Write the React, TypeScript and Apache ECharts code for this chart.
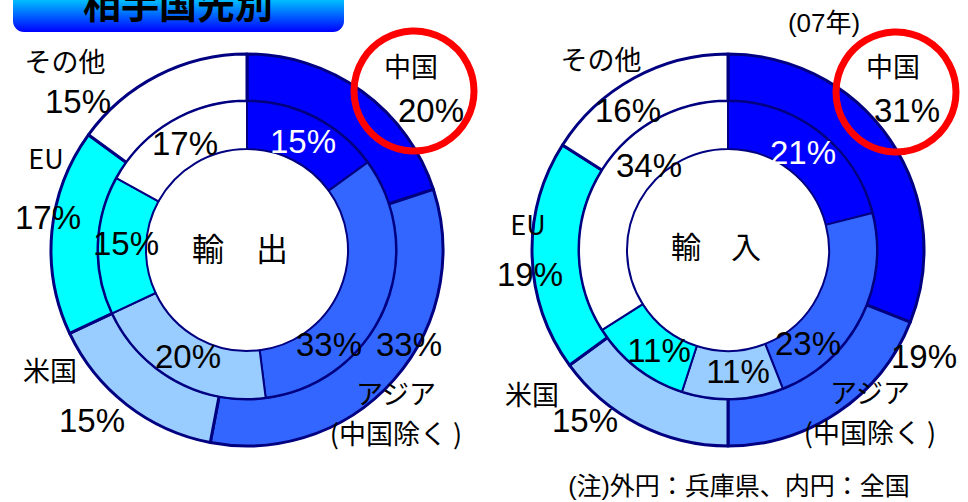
import React, { useEffect, useRef } from "react";
import * as echarts from "echarts";

// Categories (clockwise from 12 o'clock)
const categories = ["中国", "アジア(中国除く)", "米国", "EU", "その他"];
// 輸出 (exports): outer = 兵庫県, inner = 全国
const exportHyogo = [20, 33, 15, 17, 15];
const exportJapan = [15, 33, 20, 15, 17];
// 輸入 (imports): outer = 兵庫県, inner = 全国
const importHyogo = [31, 19, 15, 19, 16];
const importJapan = [21, 23, 11, 11, 34];
const sliceColors = ["#0000FF", "#3366FF", "#99CCFF", "#00FFFF", "#FFFFFF"];

const titleText = "相手国先別";
const yearText = "(07年)";
const noteText = "(注)外円：兵庫県、内円：全国";
const centerTexts = ["輸　出", "輸　入"];

const LATIN = "'Liberation Sans', Arial, 'Noto Sans CJK JP', sans-serif";
const CJK = "'Noto Sans CJK JP', 'Liberation Sans', sans-serif";

// label anchor positions (px) per slice index
const posExpOuter = [[431, 110], [409, 344], [92, 420], [48, 217], [78, 101]];
const posExpInner = [[303, 141], [329, 344], [188, 356], [126, 243], [185, 143]];
const posImpOuter = [[907, 110], [924, 356], [585, 420], [530, 274], [628, 110]];
const posImpInner = [[803, 152], [808, 343], [738, 371], [659, 350], [649, 165]];
const nameExp = [[411, 65], [396, 412], [50, 369], [46, 157], [65, 60]];
const nameImp = [[893, 65], [870, 411], [532, 393], [528, 223], [601, 58]];

function displayName(n: string) {
  const i = n.indexOf("(");
  return i > 0 ? n.slice(0, i) + "\n" + n.slice(i, n.length - 1) + " )" : n;
}

function ring(values: number[], center: number[], radius: number[], bw: number, pos: number[][], inner: boolean) {
  return {
    type: "pie",
    center,
    radius,
    startAngle: 90,
    clockwise: true,
    silent: true,
    avoidLabelOverlap: false,
    itemStyle: { borderColor: "#000080", borderWidth: bw },
    label: {
      show: true,
      position: "inside",
      formatter: "{c}%",
      fontSize: 33,
      fontFamily: LATIN,
      color: "#000",
    },
    labelLine: { show: false },
    labelLayout: (p: any) => ({
      x: pos[p.dataIndex][0],
      y: pos[p.dataIndex][1],
      align: "center",
      verticalAlign: "middle",
    }),
    data: values.map((v, i) => ({
      name: categories[i],
      value: v,
      itemStyle: { color: sliceColors[i] },
      label: inner && i === 0 ? { color: "#FFFFFF" } : undefined,
    })),
  };
}

export default function App() {
  const ref = useRef<HTMLDivElement>(null);
  useEffect(() => {
    if (!ref.current) return;
    const chart = echarts.init(ref.current, null, { renderer: "svg" });
    const nameTexts: any[] = [];
    [nameExp, nameImp].forEach((arr) => {
      arr.forEach((p, i) => {
        nameTexts.push({
          type: "text",
          x: p[0],
          y: p[1],
          z: 50,
          style: {
            text: displayName(categories[i]),
            fontSize: 27,
            fontFamily: CJK,
            fill: "#000",
            align: "center",
            verticalAlign: "middle",
            lineHeight: 40,
          },
        });
      });
    });
    chart.setOption({
      animation: false,
      backgroundColor: "#FFFFFF",
      series: [
        ring(exportHyogo, [247, 250], [149, 196], 3, posExpOuter, false),
        ring(exportJapan, [247, 250], [101, 149], 2, posExpInner, true),
        ring(importHyogo, [728, 250], [149, 196], 3, posImpOuter, false),
        ring(importJapan, [728, 250], [101, 149], 2, posImpInner, true),
      ],
      graphic: [
        {
          type: "rect",
          z: 40,
          shape: { x: 13, y: -25, width: 331, height: 57, r: 11 },
          style: {
            fill: new echarts.graphic.LinearGradient(0, 0, 0, 1, [
              { offset: 0, color: "#00FFFF" },
              { offset: 0.45, color: "#00BBFF" },
              { offset: 1, color: "#0000FF" },
            ]),
          },
        },
        {
          type: "text",
          z: 41,
          x: 178,
          y: 1,
          style: {
            text: titleText,
            fontSize: 38,
            fontWeight: "bold",
            fontFamily: CJK,
            fill: "#000",
            align: "center",
            verticalAlign: "middle",
          },
        },
        {
          type: "text",
          z: 50,
          x: 824,
          y: 23,
          style: { text: yearText, fontSize: 26, fontFamily: LATIN, fill: "#000", align: "center", verticalAlign: "middle" },
        },
        {
          type: "text",
          z: 50,
          x: 240,
          y: 247,
          style: { text: centerTexts[0], fontSize: 32, fontFamily: CJK, fill: "#000", align: "center", verticalAlign: "middle" },
        },
        {
          type: "text",
          z: 50,
          x: 716,
          y: 245,
          style: { text: centerTexts[1], fontSize: 30, fontFamily: CJK, fill: "#000", align: "center", verticalAlign: "middle" },
        },
        {
          type: "text",
          z: 50,
          x: 739,
          y: 486,
          style: { text: noteText, fontSize: 25, fontFamily: LATIN, fill: "#000", align: "center", verticalAlign: "middle" },
        },
        {
          type: "circle",
          z: 60,
          shape: { cx: 414, cy: 91, r: 60 },
          style: { fill: "none", stroke: "#FF0000", lineWidth: 7 },
        },
        {
          type: "circle",
          z: 60,
          shape: { cx: 896, cy: 92, r: 60 },
          style: { fill: "none", stroke: "#FF0000", lineWidth: 7 },
        },
        ...nameTexts,
      ],
    });
    return () => chart.dispose();
  }, []);
  return (
    <div
      ref={ref}
      style={{ position: "fixed", left: 0, top: 0, width: 968, height: 502, background: "#fff" }}
    />
  );
}
